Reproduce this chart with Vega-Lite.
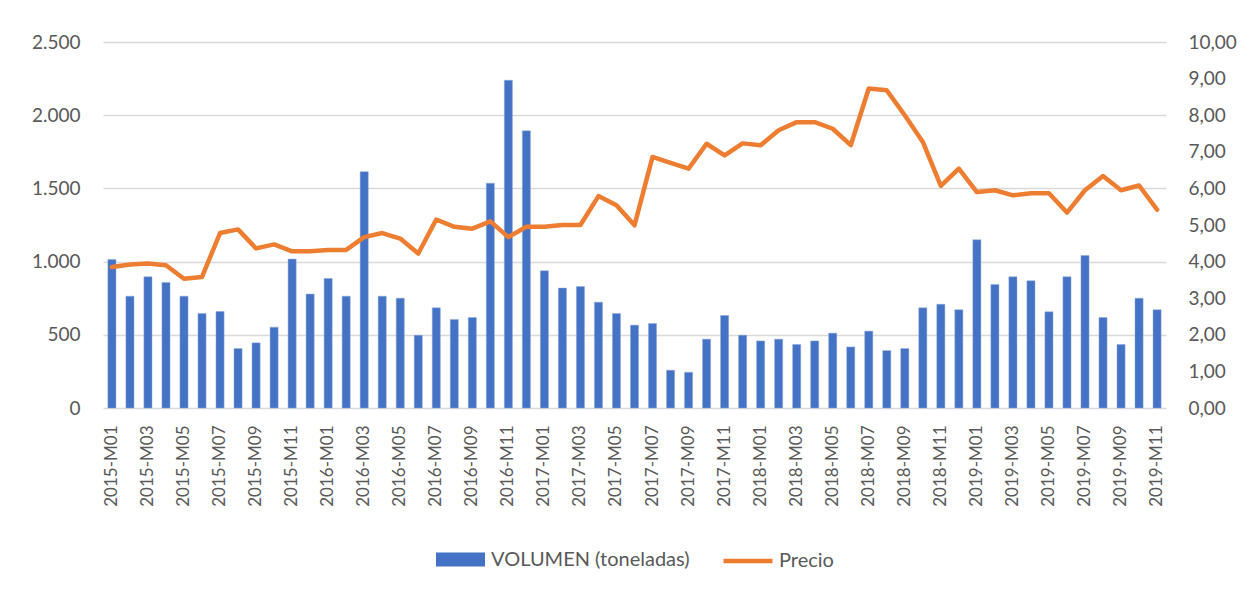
{
  "$schema": "https://vega.github.io/schema/vega-lite/v6.json",
  "width": 1063,
  "height": 366,
  "autosize": {"type": "none"},
  "padding": {"left": 103, "top": 42, "right": 79, "bottom": 181},
  "background": "white",
  "config": {
    "locale": {"number": {"decimal": ",", "thousands": ".", "grouping": [3], "currency": ["", " €"]}},
    "font": "Lato",
    "view": {"stroke": null},
    "axis": {"labelFont": "Lato", "labelColor": "#595959", "labelFontSize": 17, "titleFont": "Lato"},
    "legend": {"labelFont": "Lato", "labelColor": "#595959", "labelFontSize": 20, "labelLimit": 0,
      "layout": {"bottom": {"anchor": "middle", "direction": "horizontal", "margin": 31, "center": true}}}
  },
  "data": {"values": [
    {"mes": "2015-M01", "volumen": 1015, "precio": 3.85},
    {"mes": "2015-M02", "volumen": 764, "precio": 3.92},
    {"mes": "2015-M03", "volumen": 896, "precio": 3.95},
    {"mes": "2015-M04", "volumen": 858, "precio": 3.90},
    {"mes": "2015-M05", "volumen": 764, "precio": 3.53},
    {"mes": "2015-M06", "volumen": 646, "precio": 3.58},
    {"mes": "2015-M07", "volumen": 659, "precio": 4.78},
    {"mes": "2015-M08", "volumen": 406, "precio": 4.88},
    {"mes": "2015-M09", "volumen": 445, "precio": 4.36},
    {"mes": "2015-M10", "volumen": 552, "precio": 4.47},
    {"mes": "2015-M11", "volumen": 1017, "precio": 4.28},
    {"mes": "2015-M12", "volumen": 778, "precio": 4.28},
    {"mes": "2016-M01", "volumen": 885, "precio": 4.32},
    {"mes": "2016-M02", "volumen": 764, "precio": 4.32},
    {"mes": "2016-M03", "volumen": 1614, "precio": 4.67},
    {"mes": "2016-M04", "volumen": 764, "precio": 4.78},
    {"mes": "2016-M05", "volumen": 750, "precio": 4.63},
    {"mes": "2016-M06", "volumen": 497, "precio": 4.22},
    {"mes": "2016-M07", "volumen": 684, "precio": 5.15},
    {"mes": "2016-M08", "volumen": 605, "precio": 4.95},
    {"mes": "2016-M09", "volumen": 618, "precio": 4.90},
    {"mes": "2016-M10", "volumen": 1535, "precio": 5.10},
    {"mes": "2016-M11", "volumen": 2239, "precio": 4.67},
    {"mes": "2016-M12", "volumen": 1893, "precio": 4.95},
    {"mes": "2017-M01", "volumen": 937, "precio": 4.95},
    {"mes": "2017-M02", "volumen": 819, "precio": 5.00},
    {"mes": "2017-M03", "volumen": 830, "precio": 5.00},
    {"mes": "2017-M04", "volumen": 723, "precio": 5.79},
    {"mes": "2017-M05", "volumen": 646, "precio": 5.54},
    {"mes": "2017-M06", "volumen": 566, "precio": 4.99},
    {"mes": "2017-M07", "volumen": 577, "precio": 6.86},
    {"mes": "2017-M08", "volumen": 258, "precio": 6.70},
    {"mes": "2017-M09", "volumen": 244, "precio": 6.54},
    {"mes": "2017-M10", "volumen": 470, "precio": 7.22},
    {"mes": "2017-M11", "volumen": 632, "precio": 6.90},
    {"mes": "2017-M12", "volumen": 497, "precio": 7.23},
    {"mes": "2018-M01", "volumen": 458, "precio": 7.18},
    {"mes": "2018-M02", "volumen": 470, "precio": 7.59},
    {"mes": "2018-M03", "volumen": 434, "precio": 7.81},
    {"mes": "2018-M04", "volumen": 458, "precio": 7.81},
    {"mes": "2018-M05", "volumen": 511, "precio": 7.63},
    {"mes": "2018-M06", "volumen": 417, "precio": 7.18},
    {"mes": "2018-M07", "volumen": 525, "precio": 8.73},
    {"mes": "2018-M08", "volumen": 392, "precio": 8.68},
    {"mes": "2018-M09", "volumen": 406, "precio": 8.00},
    {"mes": "2018-M10", "volumen": 684, "precio": 7.27},
    {"mes": "2018-M11", "volumen": 709, "precio": 6.07},
    {"mes": "2018-M12", "volumen": 671, "precio": 6.54},
    {"mes": "2019-M01", "volumen": 1149, "precio": 5.90},
    {"mes": "2019-M02", "volumen": 844, "precio": 5.95},
    {"mes": "2019-M03", "volumen": 896, "precio": 5.81},
    {"mes": "2019-M04", "volumen": 869, "precio": 5.87},
    {"mes": "2019-M05", "volumen": 657, "precio": 5.87},
    {"mes": "2019-M06", "volumen": 896, "precio": 5.34},
    {"mes": "2019-M07", "volumen": 1042, "precio": 5.95},
    {"mes": "2019-M08", "volumen": 618, "precio": 6.34},
    {"mes": "2019-M09", "volumen": 434, "precio": 5.95},
    {"mes": "2019-M10", "volumen": 750, "precio": 6.08},
    {"mes": "2019-M11", "volumen": 671, "precio": 5.42}
  ]},
  "encoding": {
    "x": {
      "field": "mes", "type": "ordinal", "sort": null,
      "scale": {"paddingInner": 0.55, "paddingOuter": 0.27},
      "axis": {
        "title": null, "labelAngle": -90, "labelPadding": 17, "ticks": false, "domain": false,
        "grid": false, "labelFontSize": 17,
        "values": ["2015-M01","2015-M03","2015-M05","2015-M07","2015-M09","2015-M11","2016-M01","2016-M03","2016-M05","2016-M07","2016-M09","2016-M11","2017-M01","2017-M03","2017-M05","2017-M07","2017-M09","2017-M11","2018-M01","2018-M03","2018-M05","2018-M07","2018-M09","2018-M11","2019-M01","2019-M03","2019-M05","2019-M07","2019-M09","2019-M11"]
      }
    }
  },
  "layer": [
    {
      "mark": {"type": "bar", "stroke": "#8FAADC", "strokeWidth": 0.5},
      "encoding": {
        "y": {
          "field": "volumen", "type": "quantitative",
          "scale": {"domain": [0, 2500], "nice": false},
          "axis": {"title": null, "orient": "left", "values": [0, 500, 1000, 1500, 2000, 2500], "format": ",d",
            "ticks": false, "domain": false, "grid": true, "gridColor": "#D9D9D9", "gridWidth": 1.3, "labelPadding": 23, "labelFontSize": 19}
        },
        "fill": {
          "datum": "VOLUMEN (toneladas)", "type": "nominal",
          "scale": {"range": ["#4472C4"]},
          "legend": {"title": null, "orient": "bottom", "symbolType": "M-1,-0.286H1V0.286H-1Z", "symbolSize": 2401, "symbolStrokeWidth": 0, "offset": 27, "labelOffset": 6, "labelLimit": 0}
        }
      }
    },
    {
      "mark": {"type": "line", "strokeWidth": 4.5, "strokeJoin": "round", "strokeCap": "round"},
      "encoding": {
        "y": {
          "field": "precio", "type": "quantitative",
          "scale": {"domain": [0, 10], "nice": false},
          "axis": {"title": null, "orient": "right", "values": [0,1,2,3,4,5,6,7,8,9,10], "format": ".2f",
            "ticks": false, "domain": false, "grid": false, "labelPadding": 22, "labelFontSize": 19}
        },
        "stroke": {
          "datum": "Precio", "type": "nominal",
          "scale": {"range": ["#ED7D31"]},
          "legend": {"title": null, "orient": "bottom", "symbolType": "stroke", "symbolSize": 2401, "symbolStrokeWidth": 4.5, "offset": 27, "labelOffset": 4, "labelLimit": 0}
        }
      }
    }
  ],
  "resolve": {"scale": {"y": "independent"}}
}
